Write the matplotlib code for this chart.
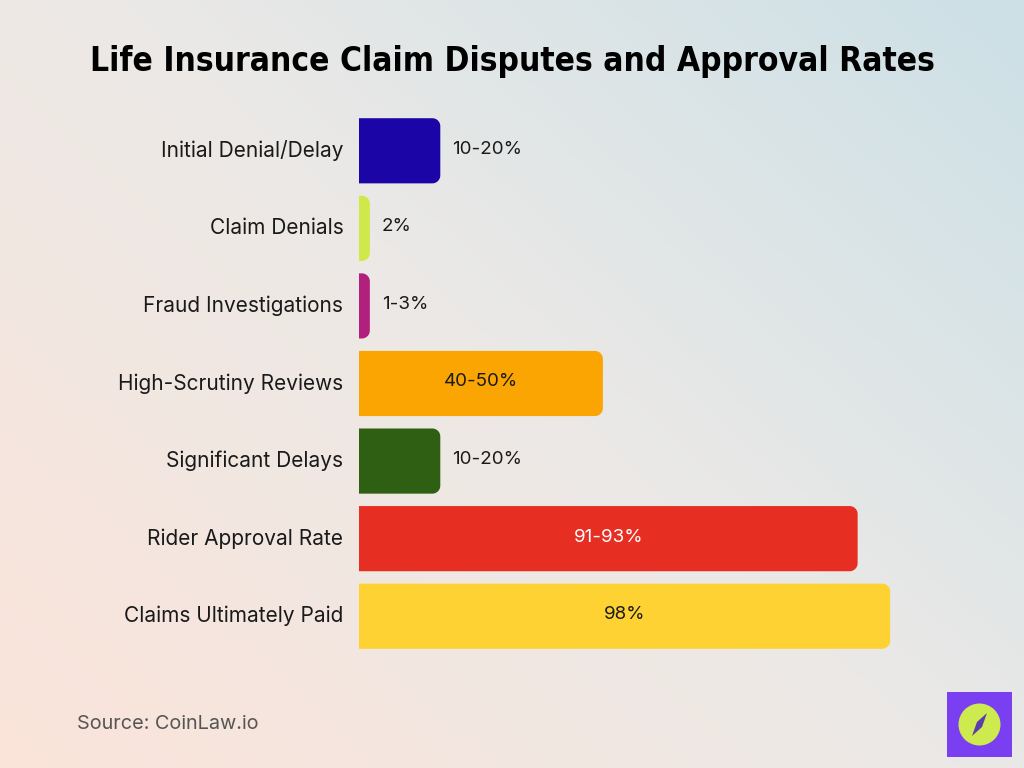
import numpy as np
import matplotlib.pyplot as plt
from matplotlib.patches import Polygon, Rectangle, Circle

categories = ["Initial Denial/Delay", "Claim Denials", "Fraud Investigations",
              "High-Scrutiny Reviews", "Significant Delays", "Rider Approval Rate",
              "Claims Ultimately Paid"]
values = [15, 2, 2, 45, 15, 92, 98]
value_labels = ["10-20%", "2%", "1-3%", "40-50%", "10-20%", "91-93%", "98%"]
colors = ["#1c05a6", "#cfe94a", "#b0207c", "#fba503", "#2f5f12", "#e62e22", "#fed232"]

W, H = 1024, 768
fig = plt.figure(figsize=(W / 100, H / 100), dpi=100)

# background gradient: pink bottom-left -> light grey -> blue-ish top-right
bg = fig.add_axes([0, 0, 1, 1])
gx, gy = np.meshgrid(np.linspace(0, 1, 256), np.linspace(0, 1, 192))
t = np.clip((gx * 1.1 + gy * 0.9) / 2, 0, 1)[..., None]
c0 = np.array([251, 228, 218]) / 255
c1 = np.array([236, 233, 230]) / 255
c2 = np.array([204, 224, 230]) / 255
img = np.where(t < 0.5, c0 + (c1 - c0) * (t / 0.5), c1 + (c2 - c1) * ((t - 0.5) / 0.5))
bg.imshow(img, aspect="auto", extent=[0, 1, 0, 1], origin="lower")
bg.axis("off")

# bar axes, placed so the bar area matches the reference
left, right = 359 / W, (359 + 542) / W
top, bottom = 1 - 112 / H, 1 - 655 / H
ax = fig.add_axes([left, bottom, right - left, top - bottom])
ax.set_xlim(0, 100)
ax.set_ylim(len(categories) - 0.5, -0.5)
ax.axis("off")

bar_h = 0.84
bars = ax.barh(range(len(categories)), values, height=bar_h, color=colors)

# swap the plain rectangles for right-rounded ones
px_x = (right - left) * W / 100
px_y = (top - bottom) * H / len(categories)
for b, c in zip(bars, colors):
    x0, y0, w, h = b.get_x(), b.get_y(), b.get_width(), b.get_height()
    r_px = min(8, w * px_x)
    rx, ry = r_px / px_x, r_px / px_y
    ang = np.linspace(0, np.pi / 2, 12)
    pts = [(x0, y0)]
    pts += [(x0 + w - rx + rx * np.sin(a), y0 + ry - ry * np.cos(a)) for a in ang]
    pts += [(x0 + w - rx + rx * np.cos(a), y0 + h - ry + ry * np.sin(a)) for a in ang]
    pts += [(x0, y0 + h)]
    b.set_visible(False)
    ax.add_patch(Polygon(pts, closed=True, facecolor=c, edgecolor="none"))

label_font = "Inter"
for i, (cat, v, lab) in enumerate(zip(categories, values, value_labels)):
    ax.text(-2.9, i, cat, ha="right", va="center", fontsize=15,
            family=label_font, color="#1a1a1a")
    if v >= 40:
        tc = "white" if colors[i] == "#e62e22" else "#1a1a1a"
        ax.text(v / 2, i - 0.02, lab, ha="center", va="center", fontsize=13.5,
                family=label_font, color=tc)
    else:
        ax.text(v + 2.2, i - 0.02, lab, ha="left", va="center", fontsize=13.5,
                family=label_font, color="#1a1a1a")

fig.text(0.5, 1 - 62 / H, "Life Insurance Claim Disputes and Approval Rates",
         ha="center", va="center", fontsize=24, fontweight="black",
         fontstretch="condensed", family="DejaVu Sans", color="black")

fig.text(77 / W, 1 - 724 / H, "Source: CoinLaw.io", ha="left", va="center",
         fontsize=14.3, family=label_font, color="#555555")

# logo
lx, ly, ls = 947 / W, 1 - 757 / H, 65
fig.patches.append(Rectangle((lx, ly), ls / W, ls / H, transform=fig.transFigure,
                             facecolor="#7a3ff0", edgecolor="none"))
fig.patches.append(Circle((979.5, 768 - 724.5), 21, transform=None,
                          facecolor="#cdea4f", edgecolor="none"))
needle = [(987, 768 - 713), (982, 768 - 727), (972, 768 - 736), (977, 768 - 722)]
fig.patches.append(Polygon(needle, closed=True, transform=None,
                           facecolor="#5b3db0", edgecolor="none"))

fig.savefig("out.png", dpi=100)
